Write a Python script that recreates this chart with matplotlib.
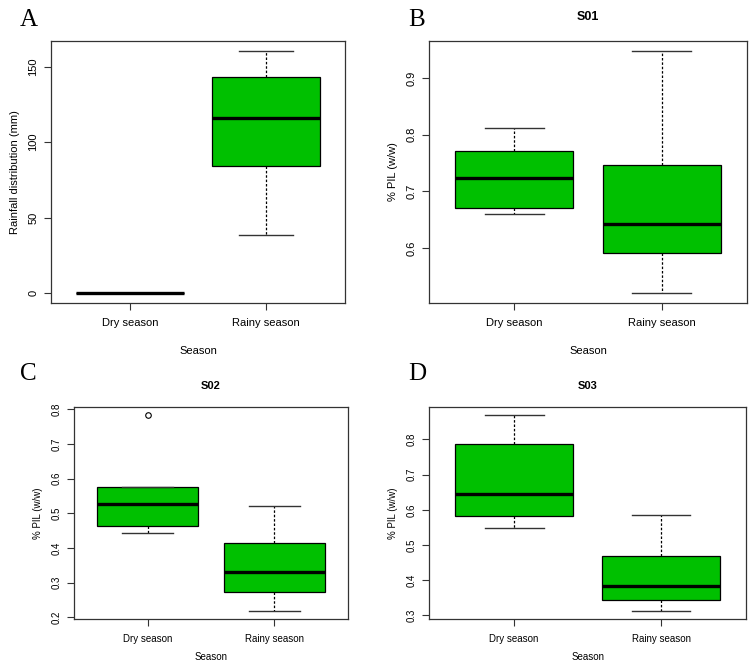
import matplotlib.pyplot as plt

# Box statistics (whislo, q1, med, q3, whishi)
seasons = ["Dry season", "Rainy season"]

rain_dry = [0, 0, 0, 0, 0]
rain_rainy = [38.3, 84.0, 116.0, 142.9, 160.5]

s01_dry = [0.659, 0.671, 0.723, 0.771, 0.812]
s01_rainy = [0.520, 0.590, 0.642, 0.747, 0.948]

s02_dry = [0.444, 0.463, 0.527, 0.575, 0.575]
s02_dry_out = [0.784]
s02_rainy = [0.218, 0.274, 0.332, 0.413, 0.520]

s03_dry = [0.548, 0.583, 0.645, 0.787, 0.870]
s03_rainy = [0.312, 0.342, 0.382, 0.469, 0.584]

GREEN = "#00C000"


def stats(vals, fliers=()):
    lo, q1, med, q3, hi = vals
    return dict(whislo=lo, q1=q1, med=med, q3=q3, whishi=hi, fliers=list(fliers))


def panel(ax, boxes, yticks, ylabel, title, fs, tpad, xlpad):
    ax.bxp(boxes, positions=[1, 2], widths=0.8, patch_artist=True,
           boxprops=dict(facecolor=GREEN, edgecolor="black", linewidth=0.9),
           medianprops=dict(color="black", linewidth=2.4),
           whiskerprops=dict(color="black", linestyle=(0, (2, 1.5)), linewidth=0.9),
           capprops=dict(color="#333333", linewidth=1.0),
           capwidths=0.4,
           flierprops=dict(marker="o", markersize=4, markerfacecolor="none",
                           markeredgecolor="black", markeredgewidth=0.8))
    lo = min(min(b["whislo"], *b["fliers"]) if b["fliers"] else b["whislo"] for b in boxes)
    hi = max(max(b["whishi"], *b["fliers"]) if b["fliers"] else b["whishi"] for b in boxes)
    pad = (hi - lo) * 0.04
    ax.set_ylim(lo - pad, hi + pad)
    ax.set_xlim(0.42, 2.58)
    ax.set_xticks([1, 2])
    ax.set_xticklabels(seasons, fontsize=fs)
    ax.set_yticks(yticks)
    ax.set_yticklabels([f"{t:g}" for t in yticks], rotation=90, va="center", fontsize=fs)
    ax.tick_params(direction="out", length=5, width=0.8, color="#333333", pad=4)
    ax.tick_params(axis="x", pad=6)
    ax.set_xlabel("Season", fontsize=fs, labelpad=xlpad)
    ax.set_ylabel(ylabel, fontsize=fs, labelpad=6)
    if title:
        ax.set_title(title, fontsize=fs + 1, fontweight="bold", pad=tpad)
    for s in ax.spines.values():
        s.set_linewidth(0.9)
        s.set_color("#333333")


plt.rcParams["font.family"] = ["Liberation Sans", "DejaVu Sans"]
fig = plt.figure(figsize=(7.5, 6.64), dpi=100)

axA = fig.add_axes([0.068, 0.544, 0.392, 0.394])
axB = fig.add_axes([0.572, 0.544, 0.424, 0.394])
axC = fig.add_axes([0.099, 0.068, 0.365, 0.319])
axD = fig.add_axes([0.572, 0.068, 0.423, 0.319])

panel(axA, [stats(rain_dry), stats(rain_rainy)], [0, 50, 100, 150],
      "Rainfall distribution (mm)", None, 8, 15, 13)
panel(axB, [stats(s01_dry), stats(s01_rainy)], [0.6, 0.7, 0.8, 0.9],
      "% PIL (w/w)", "S01", 8, 15, 13)
panel(axC, [stats(s02_dry, s02_dry_out), stats(s02_rainy)],
      [0.2, 0.3, 0.4, 0.5, 0.6, 0.7, 0.8], "% PIL (w/w)", "S02", 7, 13, 6)
panel(axD, [stats(s03_dry), stats(s03_rainy)], [0.3, 0.4, 0.5, 0.6, 0.7, 0.8],
      "% PIL (w/w)", "S03", 7, 13, 6)

for lab, x, y in [("A", 0.027, 0.97), ("B", 0.544, 0.97),
                  ("C", 0.027, 0.437), ("D", 0.544, 0.437)]:
    fig.text(x, y, lab, family="Liberation Serif", fontsize=18, va="center", ha="left")

fig.savefig("out.png", dpi=100)
